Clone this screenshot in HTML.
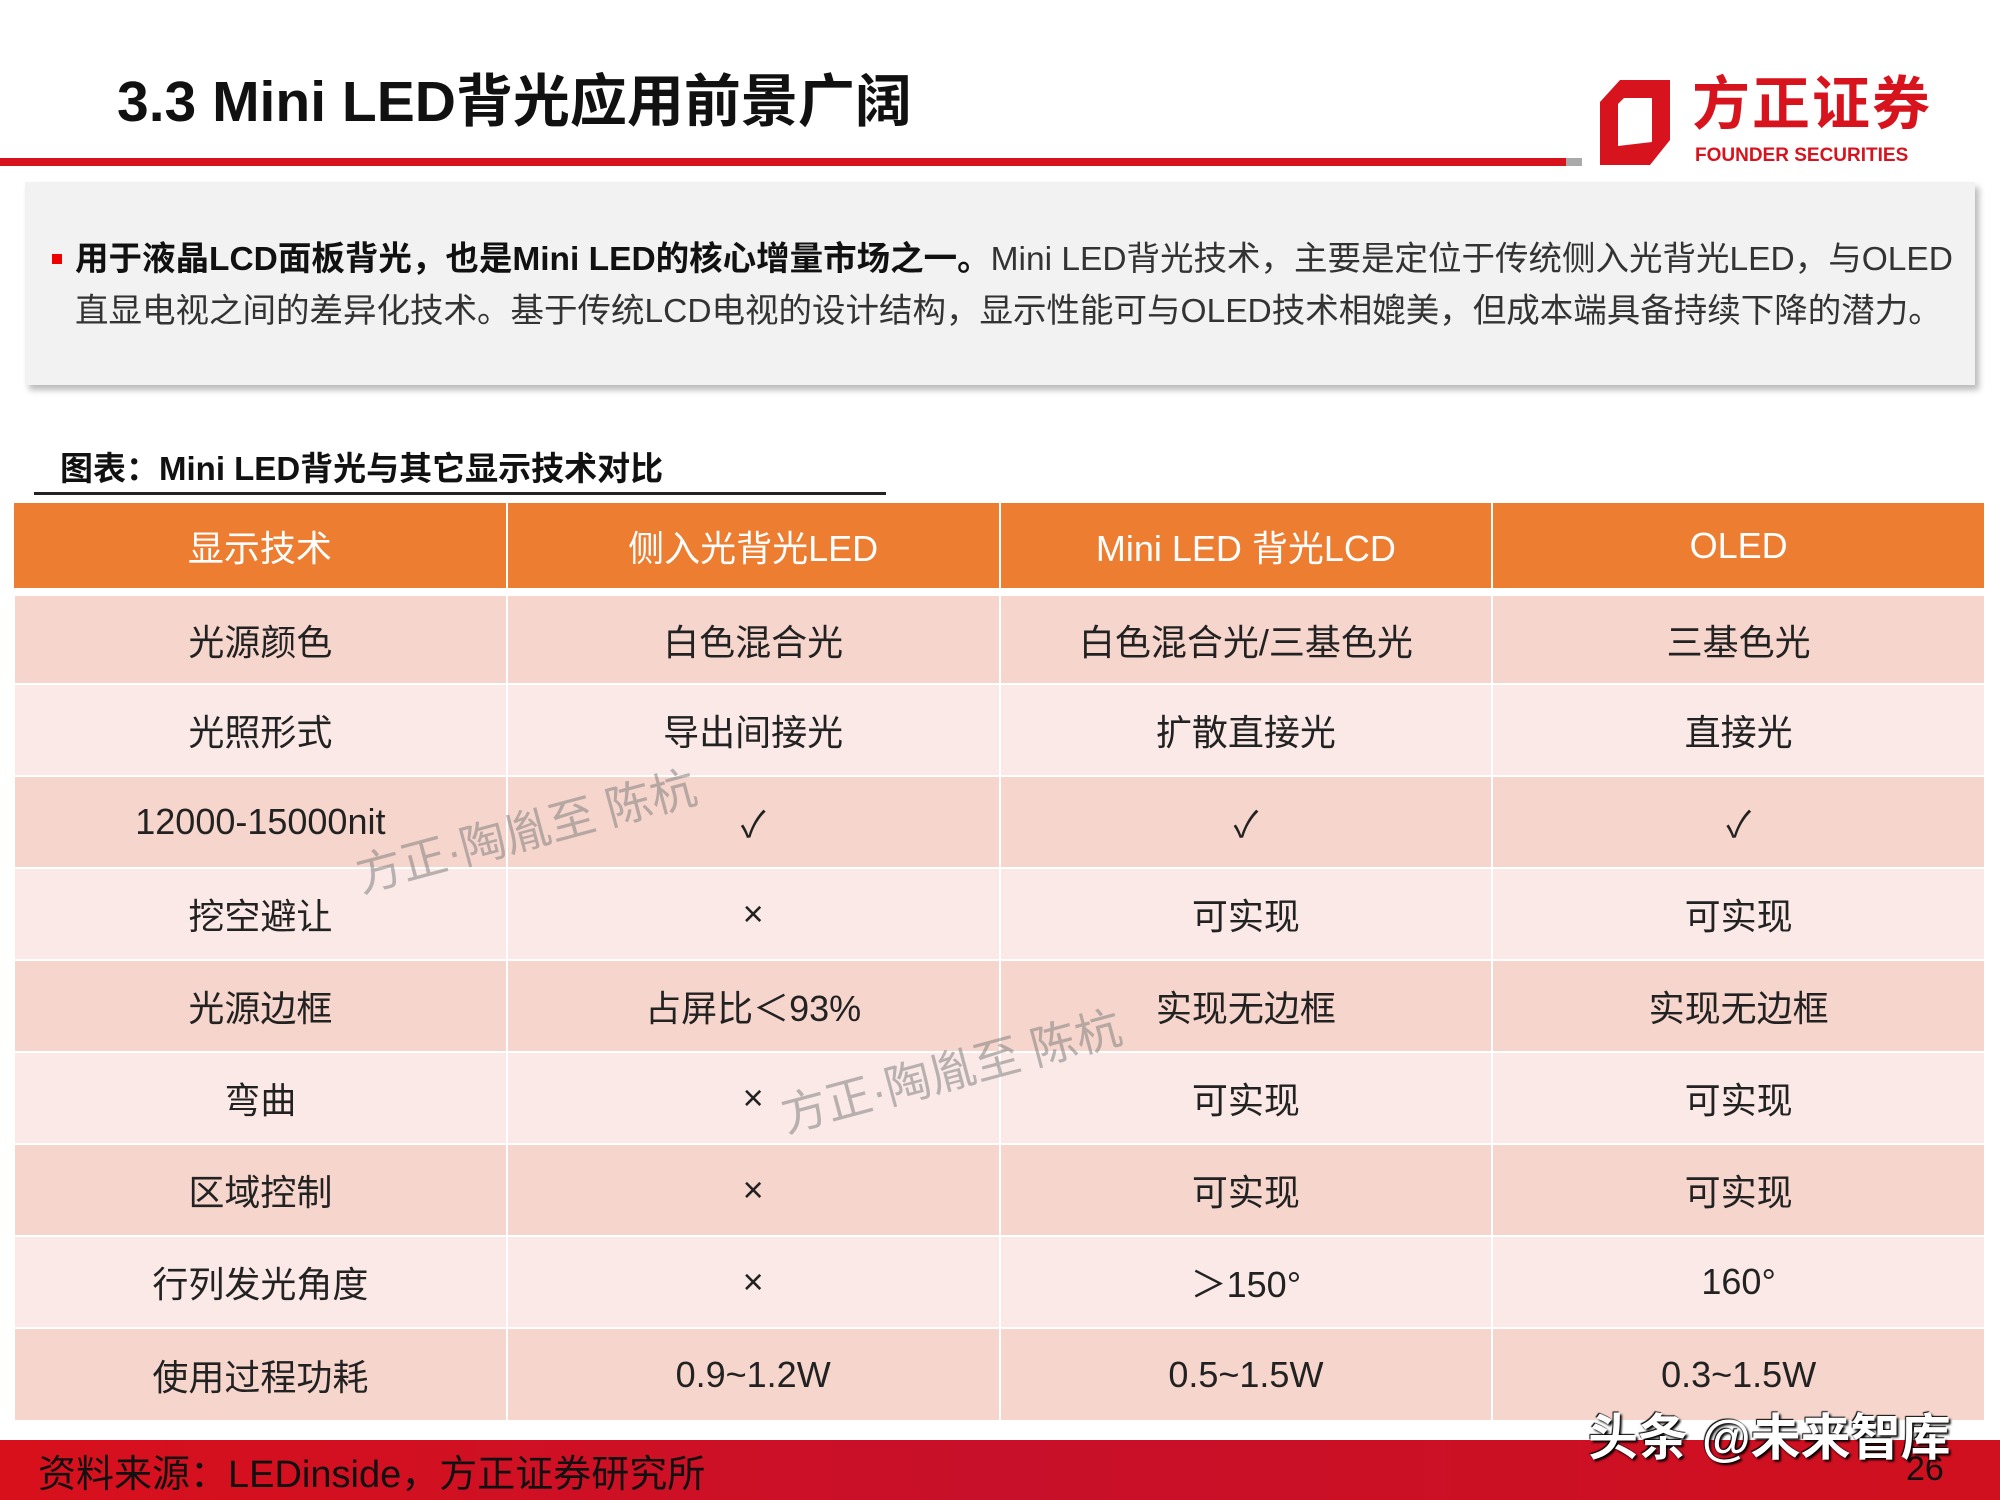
<!DOCTYPE html>
<html><head><meta charset="utf-8"><style>
*{margin:0;padding:0;box-sizing:border-box}
body{width:2000px;height:1500px;background:#fff;position:relative;overflow:hidden;font-family:"Liberation Sans","Noto Sans CJK SC",sans-serif;color:#222}
.abs{position:absolute}
.title{left:117px;top:56px;font-size:57px;font-weight:bold;color:#111;white-space:nowrap}
.box{left:25px;top:182px;width:1950px;height:203px;background:#f2f2f2;box-shadow:4px 5px 6px #bbb}
.box p{position:absolute;left:50px;font-size:33.5px;color:#333;white-space:nowrap;line-height:40px}
table{position:absolute;left:13px;top:503px;width:1973px;border-collapse:collapse;table-layout:fixed}
td{text-align:center;font-size:36px;color:#222;border-left:2px solid #fff;border-right:2px solid #fff;border-top:2px solid #fff;height:92px}
th{background:#ed7d31;color:#fff;font-weight:normal;font-size:36px;height:89px;border-right:2px solid #fff;border-bottom:8px solid #fff}
tr.a td{background:#f6d5cc}tr.b td{background:#fae9e6}
.wm{font-size:46px;color:rgba(130,130,130,0.55);transform:rotate(-15deg);transform-origin:left bottom;white-space:nowrap}
</style></head><body>
<div class="abs title">3.3 Mini LED背光应用前景广阔</div>
<div class="abs" style="left:0;top:158px;width:1566px;height:8px;background:#d7141e"></div>
<div class="abs" style="left:1566px;top:158px;width:16px;height:8px;background:#aaa"></div>
<svg class="abs" style="left:1600px;top:80px" width="70" height="85" viewBox="0 0 70 85">
<polygon points="20,0 70,0 70,60 50,85 0,85 0,22" fill="#d7141e"/>
<polygon points="24,18 52,18 52,62 18,66 18,24" fill="#fff"/>
</svg>
<div class="abs" style="left:1692px;top:70px;font-size:58px;font-weight:bold;color:#d7141e;letter-spacing:2px;line-height:70px">方正证券</div>
<div class="abs" style="left:1695px;top:145px;font-size:19px;font-weight:bold;color:#d7141e;line-height:22px">FOUNDER SECURITIES</div>
<div class="abs box">
<div class="abs" style="left:27px;top:72px;width:10px;height:10px;background:#e00"></div>
<p style="top:58px"><b style="color:#111">用于液晶LCD面板背光，也是Mini LED的核心增量市场之一。</b>Mini LED背光技术，主要是定位于传统侧入光背光LED，与OLED</p>
<p style="top:110px">直显电视之间的差异化技术。基于传统LCD电视的设计结构，显示性能可与OLED技术相媲美，但成本端具备持续下降的潜力。</p>
</div>
<div class="abs" style="left:60px;top:442px;font-size:33px;font-weight:bold;color:#111">图表：Mini LED背光与其它显示技术对比</div>
<div class="abs" style="left:34px;top:492px;width:852px;height:3px;background:#222"></div>
<table>
<tr><th>显示技术</th><th>侧入光背光LED</th><th>Mini LED 背光LCD</th><th>OLED</th></tr>
<tr class="a"><td>光源颜色</td><td>白色混合光</td><td>白色混合光/三基色光</td><td>三基色光</td></tr>
<tr class="b"><td>光照形式</td><td>导出间接光</td><td>扩散直接光</td><td>直接光</td></tr>
<tr class="a"><td>12000-15000nit</td><td>✓</td><td>✓</td><td>✓</td></tr>
<tr class="b"><td>挖空避让</td><td>×</td><td>可实现</td><td>可实现</td></tr>
<tr class="a"><td>光源边框</td><td>占屏比＜93%</td><td>实现无边框</td><td>实现无边框</td></tr>
<tr class="b"><td>弯曲</td><td>×</td><td>可实现</td><td>可实现</td></tr>
<tr class="a"><td>区域控制</td><td>×</td><td>可实现</td><td>可实现</td></tr>
<tr class="b"><td>行列发光角度</td><td>×</td><td>＞150°</td><td>160°</td></tr>
<tr class="a"><td>使用过程功耗</td><td>0.9~1.2W</td><td>0.5~1.5W</td><td>0.3~1.5W</td></tr>
</table>
<div class="abs wm" style="left:365px;top:840px">方正·陶胤至 陈杭</div>
<div class="abs wm" style="left:790px;top:1080px">方正·陶胤至 陈杭</div>
<div class="abs" style="left:0;top:1440px;width:2000px;height:60px;background:linear-gradient(90deg,#d8101c,#c8102a 50%,#d0101e)"></div>
<div class="abs" style="left:38px;top:1443px;font-size:38px;color:#111">资料来源：LEDinside，方正证券研究所</div>
<div class="abs" style="left:1906px;top:1450px;font-size:34px;color:#111">26</div>
<div class="abs" style="left:1588px;top:1398px;font-size:50px;font-weight:bold;color:#fff;text-shadow:2px 2px 2px #000,-1px -1px 1px #000">头条 @未来智库</div>
</body></html>
